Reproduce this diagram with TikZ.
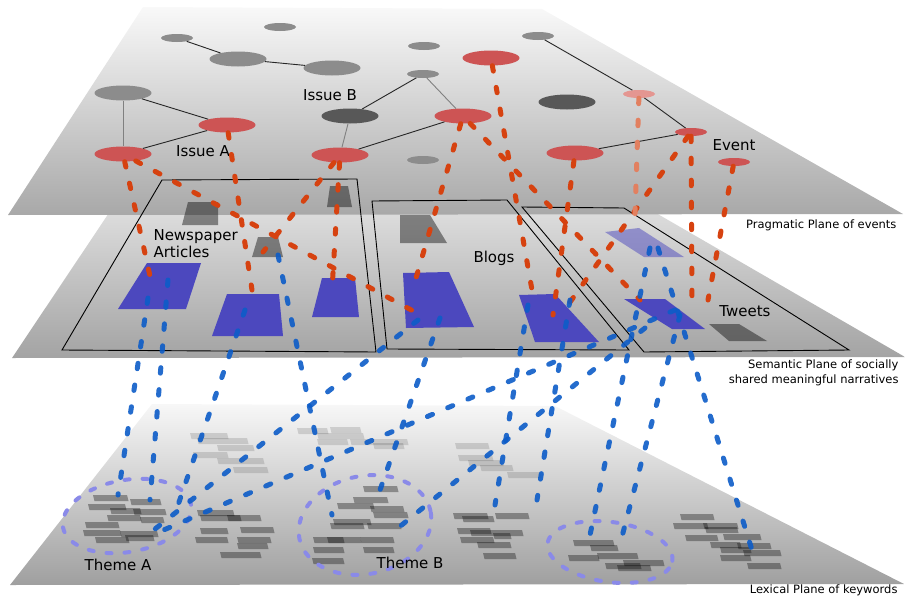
\documentclass[tikz,border=0pt]{standalone}
\usepackage{fontspec}
\setmainfont{DejaVu Sans}
\usetikzlibrary{shapes.geometric}

\definecolor{evred}{RGB}{205,84,84}
\definecolor{evpale}{RGB}{228,150,145}
\definecolor{evgray}{RGB}{140,140,140}
\definecolor{evdark}{RGB}{88,88,88}
\definecolor{docblue}{RGB}{76,72,190}
\definecolor{linkred}{RGB}{214,66,16}
\definecolor{linkpale}{RGB}{226,128,96}
\definecolor{linkblue}{RGB}{12,92,200}
\definecolor{themeblue}{RGB}{138,138,232}

\tikzset{
  ev/.style={ellipse, inner sep=0pt, minimum width=57pt, minimum height=15pt},
  evs/.style={ellipse, inner sep=0pt, minimum width=32pt, minimum height=8pt},
  link/.style={black!85, line width=0.9pt},
  glink/.style={black!50, line width=0.9pt},
  frame/.style={black, line width=0.9pt},
  doc/.style={fill=docblue},
  gdoc/.style={fill=black, opacity=0.42},
  kwbar/.style={fill=black, opacity=0.33},
  kwfaint/.style={fill=black, opacity=0.13},
  redlink/.style={draw=linkred, line width=5pt, line cap=round, dash pattern=on 5.5pt off 16.5pt},
  palelink/.style={redlink, draw=linkpale},
  bluelink/.style={draw=linkblue, line width=5pt, line cap=round, dash pattern=on 5.5pt off 16.5pt, opacity=0.9},
  themering/.style={ellipse, draw=themeblue, line width=4pt, line cap=round, dash pattern=on 5pt off 13pt, inner sep=0pt},
  lab/.style={font=\fontsize{15}{17}\selectfont},
  planelbl/.style={font=\fontsize{11.5}{15}\selectfont}
}

\begin{document}
\begin{tikzpicture}[x=1pt, y=-1pt]
\useasboundingbox (0,0) rectangle (905,597);

% --- semantic plane (behind) ---
\shade[top color=gray!8, bottom color=gray!72] (151,150) -- (547,150) -- (905,357) -- (12,358) -- cycle;

% --- pragmatic plane ---
\shade[top color=gray!5, bottom color=gray!68] (143,7) -- (542,9) -- (903,214) -- (8,215) -- cycle;

\node[evs, fill=evgray] (g1) at (177,38) {};
\node[evs, fill=evgray] (g2) at (280,27) {};
\node[ev, fill=evgray] (g3) at (238,59) {};
\node[ev, fill=evgray] (g4) at (332,68) {};
\node[evs, fill=evgray] (g5) at (424,46) {};
\node[ev, fill=evgray] (g6) at (123,93) {};
\node[ev, fill=evred] (ra1) at (227,125) {};
\node[ev, fill=evred] (ra2) at (123,154) {};
\node[ev, fill=evdark] (db) at (350,116) {};
\node[ev, fill=evred] (rb1) at (340,155) {};
\node[evs, fill=evgray] (g7) at (423,74) {};
\node[evs, fill=evgray] (g8) at (423,160) {};
\node[ev, fill=evred] (rb2) at (463,116) {};
\node[ev, fill=evred] (rc) at (491,58) {};
\node[evs, fill=evgray] (g9) at (538,36) {};
\node[ev, fill=evdark] (dk) at (567,102) {};
\node[evs, fill=evpale] (pe) at (639,94) {};
\node[ev, fill=evred] (rd) at (575,153) {};
\node[evs, fill=evred] (ev1) at (691,132) {};
\node[evs, fill=evred] (ev2) at (734,162) {};

\draw[link] (g1) -- (g3);
\draw[link] (g3) -- (g4);
\draw[glink] (g6) -- (ra2);
\draw[link] (g6) -- (ra1);
\draw[link] (ra2) -- (ra1);
\draw[glink] (db) -- (rb1);
\draw[link] (db) -- (g7);
\draw[glink] (g7) -- (rb2);
\draw[link] (rb1) -- (rb2);
\draw[link] (g9) -- (pe);
\draw[link] (pe) -- (ev1);
\draw[link] (rd) -- (ev1);

\node[lab] (issA) at (203,151) {Issue A};
\node[lab] (issB) at (330,95) {Issue B};
\node[lab] (evt) at (734,145) {Event};

% --- documents ---
\fill[gdoc] (188,202) -- (218,202) -- (218,225) -- (182,225) -- cycle;
\fill[gdoc] (330,186) -- (348,186) -- (352,207) -- (327,207) -- cycle;
\fill[gdoc] (258,237) -- (278,237) -- (283,257) -- (252,257) -- cycle;
\fill[gdoc] (400,215) -- (430,215) -- (447,243) -- (400,243) -- cycle;
\fill[gdoc] (709,324) -- (739,324) -- (767,341) -- (729,341) -- cycle;

\fill[doc] (147,263) -- (201,263) -- (186,309) -- (118,309) -- cycle;
\fill[doc] (227,294) -- (279,294) -- (283,336) -- (212,336) -- cycle;
\fill[doc] (322,278) -- (355,278) -- (359,317) -- (312,317) -- cycle;
\fill[doc] (403,273) -- (449,272) -- (474,327) -- (406,328) -- cycle;
\fill[doc] (519,295) -- (555,294) -- (599,342) -- (535,342) -- cycle;
\fill[doc, opacity=0.5] (605,232) -- (639,228) -- (684,257) -- (644,257) -- cycle;
\fill[doc] (624,299) -- (665,299) -- (705,329) -- (672,329) -- cycle;

\draw[frame] (162,180) -- (357,179) -- (376,352) -- (62,350) -- cycle;
\draw[frame] (372,201) -- (507,200) -- (629,350) -- (387,349) -- cycle;
\draw[frame] (522,207) -- (624,208) -- (849,350) -- (644,352) -- cycle;

\node[lab, anchor=west, align=left] (news) at (150,244) {Newspaper\\Articles};
\node[lab] (blogs) at (494,258) {Blogs};
\node[lab] (tweets) at (745,311) {Tweets};

% --- lexical plane ---
\shade[top color=gray!6, bottom color=gray!75] (152,404) -- (555,406) -- (904,584) -- (10,585) -- cycle;

\foreach \x/\y/\w in {190/433/37, 197/438/50, 217/445/36, 193/452/34, 217/458/46, 233/467/34,
  297/428/30, 330/427/30, 317/433/46, 350/439/57, 317/439/30, 373/443/30,
  455/443/33, 458/455/34, 468/460/34, 480/465/32, 507/472/33}
  \fill[kwfaint] (\x,\y) -- ++(\w,0) -- ++(1.5,6) -- ++(-\w,0) -- cycle;

\foreach \x/\y/\w in {93/495/34, 130/499/30, 88/504/37, 110/508/30, 133/509/32, 107/515/33,
  85/522/33, 140/517/23, 83/530/37, 120/531/37, 95/537/33, 125/535/28,
  197/510/36, 227/515/33, 200/528/27, 240/527/33, 195/537/32, 237/537/33, 237/543/30, 220/552/40, 200/515/40,
  363/486/34, 353/497/34, 337/503/36, 370/506/33, 373/512/34, 330/523/33, 367/523/33, 327/537/33,
  360/537/33, 313/537/30, 313/547/30, 363/547/30, 312/558/31, 333/519/37,
  453/513/34, 462/516/31, 495/513/33, 457/528/33, 470/530/52, 460/537/33, 477/542/33, 483/553/32, 493/533/17,
  573/540/40, 590/545/27, 568/555/30, 597/553/40, 605/563/35, 623/560/40, 617/565/33,
  680/514/33, 673/523/34, 703/523/34, 705/527/32, 685/535/32, 723/534/37, 710/542/30,
  720/547/30, 737/543/33, 720/555/30, 743/550/37, 747/563/33}
  \fill[kwbar] (\x,\y) -- ++(\w,0) -- ++(1.5,6) -- ++(-\w,0) -- cycle;

\node[themering, minimum width=130pt, minimum height=72pt, rotate=10] (thA) at (127,516) {};
\node[themering, minimum width=134pt, minimum height=98pt, rotate=12] (thB) at (365,525) {};
\node[themering, minimum width=126pt, minimum height=60pt, rotate=-8] (thC) at (610,552) {};

\node[lab] (themeA) at (118,565) {Theme A};
\node[lab] (themeB) at (410,563) {Theme B};

% --- red links (events -> documents) ---
\coordinate (m1) at (150,276);
\coordinate (m2) at (415,312);
\coordinate (m3) at (252,290);
\coordinate (m4) at (263,252);
\coordinate (m5) at (332,290);
\coordinate (m6) at (414,285);
\coordinate (m7) at (640,300);
\coordinate (m8) at (532,290);
\coordinate (m9) at (553,315);
\coordinate (m10) at (635,215);
\coordinate (m11) at (568,305);
\coordinate (m12) at (692,300);
\coordinate (m13) at (708,300);

\foreach \a/\b in {ra2/m1, ra2/m2, ra1/m3, rb1/m4, rb1/m5, rb2/m6, rb2/m7,
  rc/m8, rd/m9, ev1/m11, ev1/m12, ev2/m13}
  \draw[redlink] (\a) -- (\b);
\draw[palelink] (pe) -- (m10);

% --- blue links (documents -> keywords) ---
\coordinate (s1) at (168,280);  \coordinate (k1) at (150,500);
\coordinate (s2) at (148,298);  \coordinate (k2) at (118,495);
\coordinate (s3) at (245,310);  \coordinate (k3) at (178,505);
\coordinate (s4) at (278,255);  \coordinate (k4) at (332,515);
\coordinate (s5) at (418,320);  \coordinate (k5) at (150,533);
\coordinate (s6) at (440,318);  \coordinate (k6) at (380,490);
\coordinate (s7) at (675,310);  \coordinate (k7) at (152,535);
\coordinate (s8) at (645,328);  \coordinate (k8) at (398,528);
\coordinate (s9) at (528,305);  \coordinate (k9) at (495,505);
\coordinate (s10) at (570,300); \coordinate (k10) at (537,500);
\coordinate (s11) at (650,248); \coordinate (k11) at (590,535);
\coordinate (s12) at (680,315); \coordinate (k12) at (619,548);
\coordinate (s13) at (658,248); \coordinate (k13) at (752,550);

\foreach \a/\b in {s1/k1, s2/k2, s3/k3, s4/k4, s5/k5, s6/k6, s7/k7,
  s8/k8, s9/k9, s10/k10, s11/k11, s12/k12, s13/k13}
  \draw[bluelink] (\a) -- (\b);

% --- plane names ---
\node[planelbl, anchor=east] (lprag) at (900,225) {Pragmatic Plane of events};
\node[planelbl, anchor=east, align=right] (lsem) at (902,373) {Semantic Plane of socially\\shared meaningful narratives};
\node[planelbl, anchor=base east] (llex) at (901,593) {Lexical Plane of keywords};

\end{tikzpicture}
\end{document}
